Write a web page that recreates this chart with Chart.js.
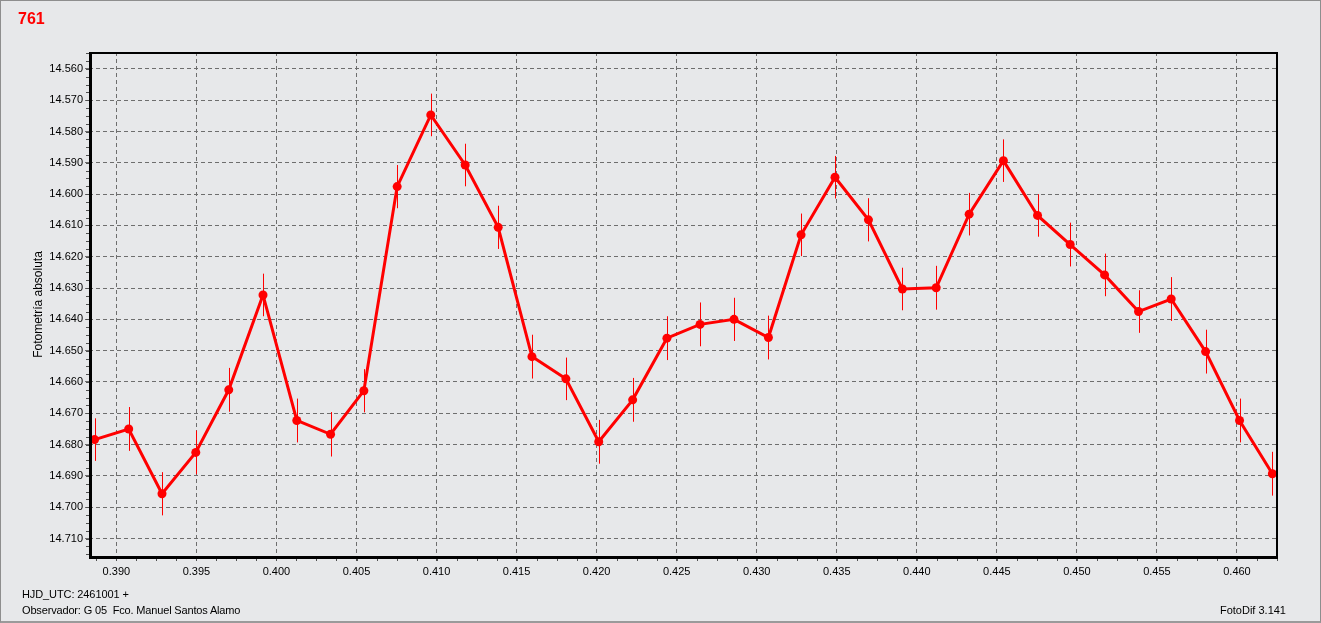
<!DOCTYPE html>
<html>
<head>
<meta charset="utf-8">
<script src="https://cdn.jsdelivr.net/npm/chart.js@4.4.1/dist/chart.umd.min.js"></script>
<style>
  html, body { margin: 0; padding: 0; background: #e7e8ea; }
  #wrap { position: relative; width: 1321px; height: 623px; background: #e7e8ea; overflow: hidden; }
  #frame { position: absolute; left: 0; top: 0; width: 1321px; height: 623px; box-sizing: border-box;
           border: 1px solid #8e8e8e; border-bottom: 2px solid #9a9a9a; pointer-events: none; }
  canvas { position: absolute; left: 0; top: 0; }
  .txt { position: absolute; font-family: "Liberation Sans", Arial, sans-serif; color: #000; white-space: pre; line-height: 1; }
  #title { left: 18px; top: 11px; font-size: 16px; font-weight: bold; color: #ff0000; }
  #hjd { left: 22px; top: 589px; font-size: 11px; letter-spacing: -0.1px; }
  #obs { left: 22px; top: 605px; font-size: 11px; letter-spacing: -0.16px; }
  #ver { right: 35px; top: 605px; font-size: 11px; }
</style>
</head>
<body>
<div id="wrap">
  <canvas id="c" width="1321" height="623"></canvas>
  <div class="txt" id="title">761</div>
  <div class="txt" id="hjd">HJD_UTC: 2461001 +</div>
  <div class="txt" id="obs">Observador: G 05  Fco. Manuel Santos Alamo</div>
  <div class="txt" id="ver">FotoDif 3.141</div>
  <div id="frame"></div>
</div>
<script>
// ---- data ----
const hjd = [0.38864, 0.39077, 0.39285, 0.39496, 0.39702, 0.39916, 0.40127, 0.40338, 0.40546, 0.40754,
             0.40964, 0.41179, 0.41385, 0.41596, 0.41808, 0.42013, 0.42225, 0.42439, 0.42646, 0.42858,
             0.43073, 0.43277, 0.43489, 0.43698, 0.43910, 0.44121, 0.44327, 0.44541, 0.44754, 0.44958,
             0.45173, 0.45385, 0.45589, 0.45804, 0.46016, 0.46221];
const mag = [14.6784, 14.6750, 14.6957, 14.6825, 14.6625, 14.6322, 14.6723, 14.6767, 14.6628, 14.5976,
             14.5747, 14.5907, 14.6106, 14.6519, 14.6590, 14.6791, 14.6657, 14.6460, 14.6416, 14.6400,
             14.6458, 14.6130, 14.5946, 14.6082, 14.6303, 14.6299, 14.6064, 14.5893, 14.6068, 14.6161,
             14.6258, 14.6375, 14.6335, 14.6503, 14.6723, 14.6893];
const magErr = [0.0068, 0.0070, 0.0069, 0.0070, 0.0070, 0.0068, 0.0070, 0.0071, 0.0069, 0.0069,
                0.0068, 0.0068, 0.0069, 0.0070, 0.0068, 0.0070, 0.0070, 0.0070, 0.0070, 0.0069,
                0.0070, 0.0068, 0.0068, 0.0069, 0.0068, 0.0070, 0.0068, 0.0068, 0.0068, 0.0070,
                0.0068, 0.0068, 0.0070, 0.0070, 0.0070, 0.0070];
const xRange = [0.38829, 0.46250];
const yRange = [14.5546, 14.7159];
const xStep = 0.005, xMinorStep = 0.00125;
const yStep = 0.01, yMinorStep = 0.0025;
const yTitle = 'Fotometría absoluta';

const FONT = '"Liberation Sans", Arial, sans-serif';

const errorBars = {
  id: 'errorBars',
  beforeDatasetsDraw(chart) {
    const {ctx, scales: {x, y}} = chart;
    ctx.save();
    ctx.strokeStyle = '#ff0000';
    ctx.lineWidth = 1;
    ctx.beginPath();
    for (let i = 0; i < hjd.length; i++) {
      const px = Math.round(x.getPixelForValue(hjd[i])) + 0.5;
      ctx.moveTo(px, y.getPixelForValue(mag[i] - magErr[i]));
      ctx.lineTo(px, y.getPixelForValue(mag[i] + magErr[i]));
    }
    ctx.stroke();
    ctx.restore();
  }
};

const frameAndMinor = {
  id: 'frameAndMinor',
  afterDraw(chart) {
    const {ctx, chartArea: a, scales: {x, y}} = chart;
    ctx.save();
    ctx.strokeStyle = '#505050';
    ctx.lineWidth = 1;
    ctx.beginPath();
    const xs = Math.ceil(xRange[0] / xMinorStep);
    for (let k = xs; k * xMinorStep <= xRange[1]; k++) {
      const px = Math.round(x.getPixelForValue(k * xMinorStep)) + 0.5;
      ctx.moveTo(px, a.bottom);
      ctx.lineTo(px, a.bottom + 4);
    }
    const ys = Math.ceil(yRange[0] / yMinorStep - 1e-9);
    for (let k = ys; k * yMinorStep <= yRange[1]; k++) {
      const py = Math.round(y.getPixelForValue(k * yMinorStep)) + 0.5;
      ctx.moveTo(a.left - 3, py);
      ctx.lineTo(a.left, py);
    }
    ctx.stroke();
    ctx.strokeStyle = '#000';
    ctx.lineWidth = 2;
    ctx.strokeRect(a.left + 1, a.top + 1, a.right - a.left - 1, a.bottom - a.top);
    ctx.fillStyle = '#000';
    ctx.fillRect(a.left, a.top, 3, a.bottom - a.top + 2);
    ctx.fillRect(a.left, a.bottom - 1, a.right - a.left + 1, 3);
    ctx.restore();
  }
};

new Chart(document.getElementById('c'), {
  type: 'line',
  data: {
    datasets: [{
      data: hjd.map((v, i) => ({x: v, y: mag[i]})),
      borderColor: '#ff0000',
      backgroundColor: '#ff0000',
      borderWidth: 3,
      pointRadius: 4.5,
      pointStyle: 'circle',
      pointBorderWidth: 0,
      tension: 0
    }]
  },
  options: {
    responsive: false,
    devicePixelRatio: 1,
    animation: false,
    events: [],
    layout: { padding: { left: 0, top: 52, right: 44, bottom: 0 } },
    plugins: { legend: { display: false }, tooltip: { enabled: false }, title: { display: false } },
    scales: {
      x: {
        type: 'linear',
        min: xRange[0], max: xRange[1],
        afterFit(s) { s.height = 66; },
        border: { display: false, dash: [4, 3] },
        grid: { color: '#6e6e6e', lineWidth: 1, drawTicks: true, tickLength: 4,
                tickColor: '#505050', tickBorderDash: [] },
        ticks: {
          stepSize: xStep, includeBounds: false, autoSkip: false, maxRotation: 0,
          padding: 4, color: '#000',
          font: { family: FONT, size: 11 },
          callback: v => Number(v).toFixed(3)
        }
      },
      y: {
        type: 'linear',
        reverse: true,
        min: yRange[0], max: yRange[1],
        afterFit(s) { s.width = 89; },
        border: { display: false, dash: [4, 3] },
        grid: { color: '#6e6e6e', lineWidth: 1, drawTicks: true, tickLength: 4,
                tickColor: '#6e6e6e', tickBorderDash: [] },
        title: { display: true, text: yTitle, color: '#000',
                 font: { family: FONT, size: 12 }, padding: { top: 31, bottom: 0 } },
        ticks: {
          stepSize: yStep, includeBounds: false, autoSkip: false,
          padding: 2, color: '#000',
          font: { family: FONT, size: 11 },
          callback: v => Number(v).toFixed(3)
        }
      }
    }
  },
  plugins: [errorBars, frameAndMinor]
});
</script>
</body>
</html>
